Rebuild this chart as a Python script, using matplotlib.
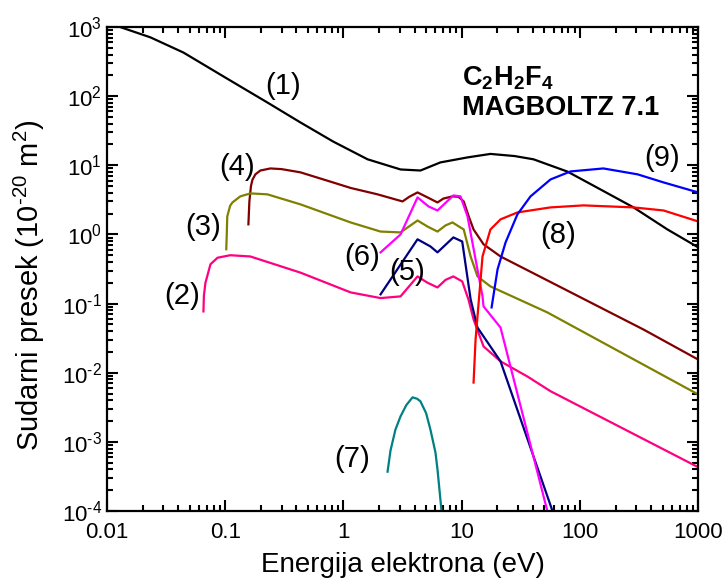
import numpy as np
import matplotlib
matplotlib.use("Agg")
import matplotlib.pyplot as plt
from matplotlib.ticker import LogLocator, FixedLocator, FixedFormatter, NullFormatter

plt.rcParams['font.family'] = ['Liberation Sans', 'DejaVu Sans']
plt.rcParams['mathtext.fontset'] = 'custom'
plt.rcParams['mathtext.rm'] = 'Liberation Sans'
plt.rcParams['mathtext.bf'] = 'Liberation Sans:bold'

# (1) elastic / momentum transfer
e1 = [0.0129, 0.0233, 0.0443, 0.1, 0.227, 0.433, 0.82, 1.6, 3.04, 4.48, 6.6, 11.2, 17.5, 28, 40.5, 78.5, 149, 284, 550, 1000]
s1 = [1000, 708, 427, 186, 81, 41.6, 22, 12.2, 8.7, 8.4, 11, 13, 14.6, 13.6, 12.2, 8.1, 4.48, 2.46, 1.18, 0.65]
# (4)
e4 = [0.157, 0.16, 0.165, 0.17, 0.18, 0.198, 0.241, 0.30, 0.433, 0.776, 1.15, 1.94, 3.16, 3.6, 4.23, 5.14, 6.24, 7.0, 8.36, 9.4, 10.4, 11.5, 12.6, 15.3, 21.3, 346, 1000]
s4 = [1.4, 3.0, 5.0, 6.2, 7.4, 8.4, 9.0, 8.8, 7.9, 5.8, 4.7, 3.8, 3.0, 3.5, 4.05, 3.43, 2.9, 3.3, 3.55, 3.5, 3.0, 1.8, 1.18, 0.72, 0.48, 0.042, 0.0155]
# (3)
e3 = [0.102, 0.103, 0.104, 0.11, 0.115, 0.134, 0.163, 0.227, 0.433, 1.15, 2.06, 3.04, 4.23, 5.14, 6.24, 7.3, 8.36, 9.77, 10.4, 11.9, 13.6, 17.5, 53, 1000]
s3 = [0.61, 1.0, 1.82, 2.6, 2.9, 3.55, 3.92, 3.8, 2.72, 1.49, 1.1, 1.07, 1.59, 1.3, 1.1, 1.35, 1.49, 1.26, 1.18, 0.48, 0.247, 0.177, 0.0745, 0.00485]
# (2)
e2 = [0.0654, 0.066, 0.068, 0.075, 0.086, 0.11, 0.163, 0.433, 1.15, 2.06, 3.04, 4.23, 5.14, 6.24, 7.3, 8.5, 10.1, 11.4, 12.6, 15.3, 21.3, 36, 56.4, 1000]
s2 = [0.077, 0.13, 0.2, 0.37, 0.46, 0.5, 0.48, 0.28, 0.145, 0.12, 0.127, 0.247, 0.2, 0.171, 0.22, 0.247, 0.209, 0.115, 0.059, 0.024, 0.0146, 0.0088, 0.0054, 0.00043]
# (5)
e5 = [2.06, 4.23, 5.44, 6.24, 8.5, 10.1, 11.9, 13.6, 21.3, 58.6]
s5 = [0.136, 0.85, 0.67, 0.55, 0.905, 0.79, 0.115, 0.045, 0.0146, 0.0001]
# (6)
e6 = [2.06, 3.04, 4.23, 5.24, 6.24, 8.5, 9.77, 11.2, 15.0, 15.3, 21.3, 53]
s6 = [0.55, 1.0, 3.43, 2.54, 2.22, 3.66, 3.55, 1.82, 0.127, 0.091, 0.045, 0.0001]
# (7)
e7 = [2.36, 2.5, 2.75, 3.04, 3.4, 3.84, 4.2, 4.48, 5.0, 5.44, 6.0, 6.24, 6.75]
s7 = [3.7e-4, 7.5e-4, 1.5e-3, 2.34e-3, 3.4e-3, 4.4e-3, 4.2e-3, 3.85e-3, 2.6e-3, 1.5e-3, 7e-4, 4e-4, 1e-4]
# (8)
e8 = [12.6, 13.1, 13.6, 15.0, 17.5, 21.3, 29.6, 56.4, 107, 284, 510, 1000]
s8 = [0.0072, 0.030, 0.065, 0.48, 1.18, 1.65, 2.08, 2.46, 2.63, 2.46, 2.22, 1.54]
# (9)
e9 = [17.9, 20.1, 23.5, 29.6, 38.2, 56.4, 83.3, 158, 307, 510, 1000]
s9 = [0.088, 0.312, 0.766, 1.95, 3.55, 6.24, 8.15, 9.0, 7.4, 5.65, 4.05]

curves = [
    (e1, s1, 'black'), (e4, s4, '#800000'), (e3, s3, '#808000'),
    (e2, s2, '#FF0080'), (e5, s5, '#000080'), (e6, s6, '#FF00FF'),
    (e7, s7, '#008080'), (e8, s8, '#FF0000'), (e9, s9, '#0000FF'),
]

labels = ['(1)', '(2)', '(3)', '(4)', '(5)', '(6)', '(7)', '(8)', '(9)']
label_x = [0.31, 0.0434, 0.065, 0.127, 3.47, 1.45, 1.19, 66, 500]
label_y = [138, 0.127, 1.26, 9.6, 0.29, 0.465, 5.6e-4, 0.97, 12.6]

xticks = [0.01, 0.1, 1, 10, 100, 1000]
xticklabels = ['0.01', '0.1', '1', '10', '100', '1000']
yticks = [1e-4, 1e-3, 1e-2, 1e-1, 1, 10, 100, 1000]
yexp = ['-4', '-3', '-2', '-1', '0', '1', '2', '3']
yticklabels = [r'10$^{\text{%s}}$' % p for p in yexp]

fig = plt.figure(figsize=(7.28, 5.87), dpi=100)
ax = fig.add_axes([0.147, 0.1295, 0.812, 0.8245])

for e, s, c in curves:
    ax.plot(e, s, color=c, lw=1.6)

for t, x, y in zip(labels, label_x, label_y):
    ax.text(x, y, t, fontsize=21, ha='center', va='center')

ax.set_xscale('log')
ax.set_yscale('log')
ax.set_xlim(0.01, 1000)
ax.set_ylim(1e-4, 1e3)

ax.xaxis.set_major_locator(FixedLocator(xticks))
ax.xaxis.set_major_formatter(FixedFormatter(xticklabels))
ax.xaxis.set_minor_locator(LogLocator(base=10, subs=np.arange(2, 10), numticks=20))
ax.xaxis.set_minor_formatter(NullFormatter())
ax.yaxis.set_major_locator(FixedLocator(yticks))
ax.yaxis.set_major_formatter(FixedFormatter(yticklabels))
ax.yaxis.set_minor_locator(LogLocator(base=10, subs=np.arange(2, 10), numticks=20))
ax.yaxis.set_minor_formatter(NullFormatter())

ax.tick_params(which='both', direction='in', top=True, right=True, labelsize=16, width=1.5)
ax.tick_params(which='major', length=8)
ax.tick_params(which='minor', length=4.5)
ax.tick_params(axis='x', which='major', pad=8)
for sp in ax.spines.values():
    sp.set_linewidth(1.6)

ax.set_xlabel('Energija elektrona (eV)', fontsize=20)
ax.xaxis.set_label_coords(0.5, -0.084)
ax.set_ylabel(r'Sudarni presek (10$^{\text{-20}}$ m$^2$)', fontsize=21)
ax.yaxis.set_label_coords(-0.101, 0.466)

ax.text(0.60, 0.895, r'C$_\mathbf{2}$H$_\mathbf{2}$F$_\mathbf{4}$', transform=ax.transAxes,
        fontsize=19.5, fontweight='bold', ha='left', va='center')
ax.text(0.60, 0.832, 'MAGBOLTZ 7.1', transform=ax.transAxes,
        fontsize=19.5, fontweight='bold', ha='left', va='center')

fig.savefig('out.png', dpi=100)
